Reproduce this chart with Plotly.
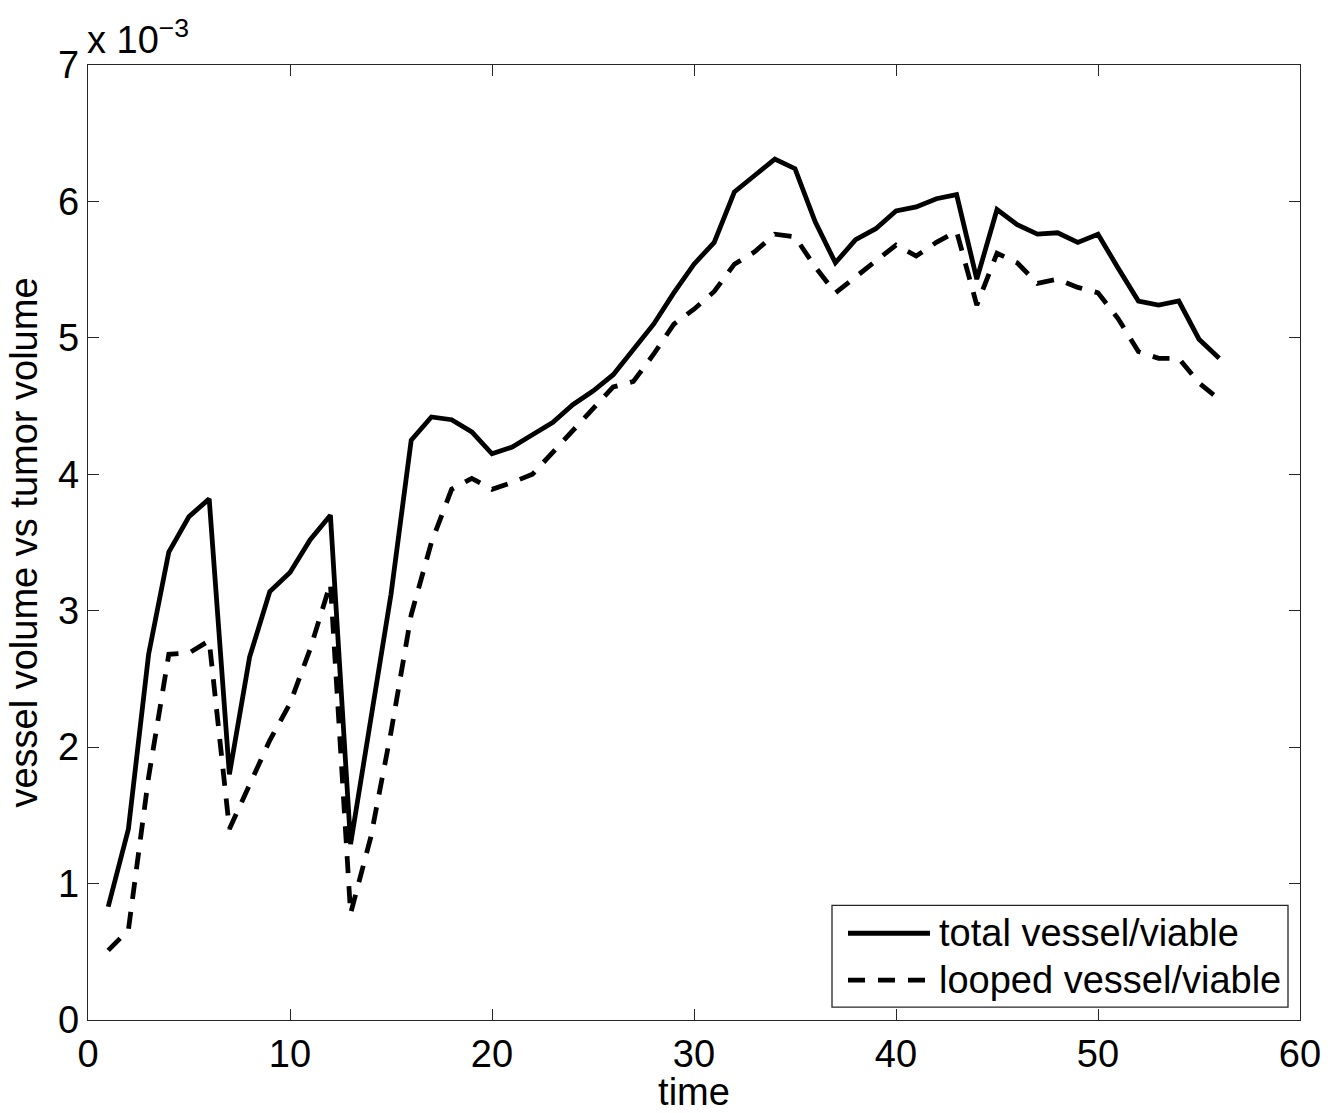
import plotly.graph_objects as go

time = list(range(1, 57))
total_vessel = [0.83, 1.40, 2.68, 3.43, 3.69, 3.82, 1.80, 2.66, 3.14, 3.28,
                3.52, 3.70, 1.29, 2.20, 3.12, 4.25, 4.42, 4.40, 4.31, 4.15,
                4.20, 4.29, 4.38, 4.51, 4.61, 4.73, 4.92, 5.10, 5.33, 5.54,
                5.70, 6.07, 6.19, 6.31, 6.24, 5.85, 5.55, 5.72, 5.80, 5.93,
                5.96, 6.02, 6.05, 5.43, 5.94, 5.83, 5.76, 5.77, 5.70, 5.76,
                5.51, 5.27, 5.24, 5.27, 4.99, 4.85]
looped_vessel = [0.51, 0.66, 1.78, 2.68, 2.69, 2.78, 1.40, 1.72, 2.05, 2.32,
                 2.72, 3.20, 0.78, 1.34, 2.11, 2.97, 3.50, 3.89, 3.97, 3.89,
                 3.94, 4.00, 4.16, 4.33, 4.48, 4.64, 4.68, 4.88, 5.10, 5.21,
                 5.34, 5.54, 5.63, 5.76, 5.74, 5.52, 5.33, 5.45, 5.57, 5.68,
                 5.60, 5.70, 5.78, 5.24, 5.62, 5.55, 5.40, 5.43, 5.37, 5.33,
                 5.14, 4.90, 4.85, 4.85, 4.67, 4.55]
series_names = ["total vessel/viable", "looped vessel/viable"]
x_ticks = [0, 10, 20, 30, 40, 50, 60]
y_ticks = [0, 1, 2, 3, 4, 5, 6, 7]

W, H = 1340, 1113
L, R, T, B = 88, 1300, 65, 1023
FONT = "Liberation Sans, Arial, sans-serif"
FS = 38
AX = "#262626"
DASH = "17px,13px"

def px(x):
    return (x - L) / (R - L)

def py(y):
    return (B - y) / (B - T)

fig = go.Figure()
fig.add_trace(go.Scatter(x=time, y=total_vessel, mode="lines", name=series_names[0],
                         line=dict(color="black", width=4.8)))
fig.add_trace(go.Scatter(x=time, y=looped_vessel, mode="lines", name=series_names[1],
                         line=dict(color="black", width=4.8, dash=DASH)))

axis_common = dict(showgrid=False, zeroline=False, showline=True, linecolor=AX,
                   linewidth=1.3, mirror="ticks", ticks="inside", ticklen=11,
                   tickcolor=AX, tickwidth=1.3,
                   tickfont=dict(family=FONT, size=FS, color="black"))

fig.update_layout(
    width=W, height=H,
    margin=dict(l=L, r=W - R, t=T, b=H - B),
    paper_bgcolor="white", plot_bgcolor="white",
    showlegend=False,
    xaxis=dict(range=[0, 60], tickvals=x_ticks, ticktext=[str(v) for v in x_ticks],
               title=dict(text="time", font=dict(family=FONT, size=FS, color="black"),
                          standoff=0),
               **axis_common),
    yaxis=dict(range=[0, 7], tickvals=y_ticks, ticktext=[str(v) for v in y_ticks],
               title=dict(text="vessel volume vs tumor volume",
                          font=dict(family=FONT, size=FS, color="black"), standoff=8),
               **axis_common),
)

# multiplier annotation
fig.add_annotation(x=0, y=1, xref="paper", yref="paper", xanchor="left", yanchor="bottom",
                   text="x 10<sup>\u22123</sup>", showarrow=False, xshift=-3, yshift=2,
                   font=dict(family=FONT, size=FS, color="black"))

# custom legend
fig.add_shape(type="rect", xref="paper", yref="paper",
              x0=px(832), x1=px(1288), y0=py(1010), y1=py(908),
              line=dict(color=AX, width=1.3), fillcolor="white", layer="above")
fig.add_shape(type="line", xref="paper", yref="paper",
              x0=px(848), x1=px(930), y0=py(936), y1=py(936),
              line=dict(color="black", width=4.8), layer="above")
fig.add_shape(type="line", xref="paper", yref="paper",
              x0=px(848), x1=px(930), y0=py(983), y1=py(983),
              line=dict(color="black", width=4.8, dash=DASH), layer="above")
for name, yy in zip(series_names, [936, 983]):
    fig.add_annotation(x=px(937), y=py(yy), xref="paper", yref="paper",
                       xanchor="left", yanchor="middle", text=name, showarrow=False,
                       font=dict(family=FONT, size=FS, color="black"))

fig.write_html("out.html")
